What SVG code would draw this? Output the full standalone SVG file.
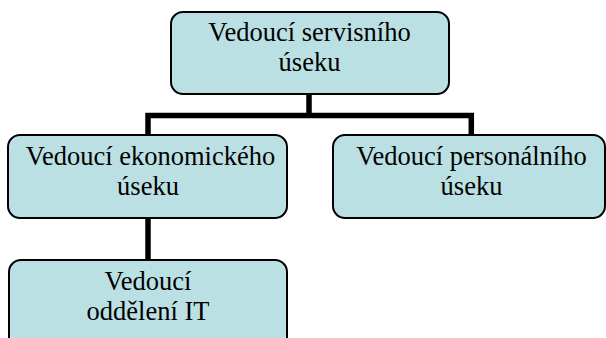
<svg xmlns="http://www.w3.org/2000/svg" width="606" height="338" viewBox="0 0 606 338">
  <style>
    .box { fill: #bbe0e3; stroke: #000; stroke-width: 2; }
    .lbl { font-family: 'Liberation Serif', 'Times New Roman', serif; font-size: 26.5px; fill: #000; text-anchor: middle; }
    .link { fill: none; stroke: #000; stroke-width: 5.5; stroke-linejoin: miter; }
  </style>
  <rect width="606" height="338" fill="#fff"/>

  <!-- connectors -->
  <g id="connectors">
    <path class="link" d="M309,94 V115.5"/>
    <path class="link" d="M148,135 V115.5 H471.3 V135"/>
    <path class="link" d="M148,219 V260"/>
  </g>

  <g id="node-servis">
    <rect class="box" x="171" y="12" width="278" height="82" rx="12" ry="12"/>
    <text class="lbl" x="309.5" y="41">Vedoucí servisního</text>
    <text class="lbl" x="309.5" y="71">úseku</text>
  </g>

  <g id="node-ekonom">
    <rect class="box" x="8" y="135" width="279" height="83" rx="12" ry="12"/>
    <text class="lbl" x="150.5" y="164.5">Vedoucí ekonomického</text>
    <text class="lbl" x="148" y="195">úseku</text>
  </g>

  <g id="node-personal">
    <rect class="box" x="333" y="135" width="272" height="83" rx="12" ry="12"/>
    <text class="lbl" x="471.5" y="164.5">Vedoucí personálního</text>
    <text class="lbl" x="471.5" y="195">úseku</text>
  </g>

  <g id="node-it">
    <rect class="box" x="9" y="260" width="278" height="100" rx="12" ry="12"/>
    <text class="lbl" x="148" y="289.5">Vedoucí</text>
    <text class="lbl" x="148" y="320">oddělení IT</text>
  </g>
</svg>
